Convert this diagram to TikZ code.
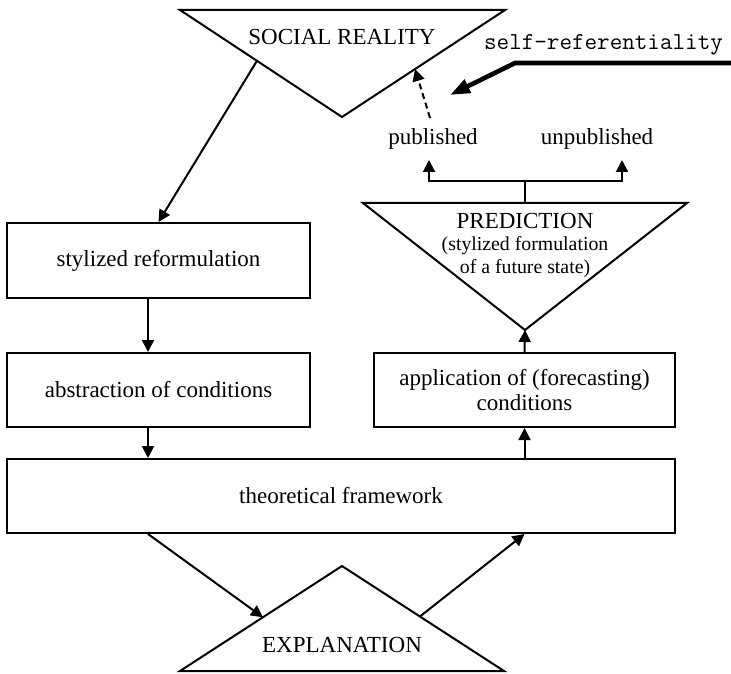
\documentclass[tikz,border=0pt]{standalone}
\usepackage{fontspec}
\setmainfont{Liberation Serif}
\usetikzlibrary{arrows.meta,calc}
\begin{document}
\begin{tikzpicture}[x=0.5pt,y=-0.5pt,
  box/.style={draw,line width=1pt,rectangle,inner sep=0pt,align=center,
    font=\fontsize{11.5}{12.5}\selectfont},
  lbl/.style={inner sep=0pt,align=center,font=\fontsize{11.5}{13.5}\selectfont},
  sublbl/.style={inner sep=0pt,align=center,font=\fontsize{9.9}{11.5}\selectfont},
  arr/.style={line width=1pt,-{Triangle[length=6pt,width=6pt]}},
  outline/.style={line width=1pt,line join=miter}]
\useasboundingbox (0,0) rectangle (731,673);

% guide column for the left-hand vertical connectors
\coordinate (lx) at (148,0);

% SOCIAL REALITY (inverted triangle)
\coordinate (srl) at (180,10);
\coordinate (srr) at (505,10);
\coordinate (sra) at (342,117);
\draw[outline] (srl) -- (srr) -- (sra) -- cycle;
\node[lbl] (social) at (342,37) {SOCIAL REALITY};

% PREDICTION (inverted triangle)
\coordinate (pl) at (363,203);
\coordinate (pr) at (687,203);
\coordinate (pa) at (525,330);
\draw[outline] (pl) -- (pr) -- (pa) -- cycle;
\node[lbl] (pred) at (525,221) {PREDICTION};
\node[sublbl] (predsub) at (525,257) {(stylized formulation\\of a future state)};

% EXPLANATION (triangle)
\coordinate (el) at (180,671);
\coordinate (er) at (504,671);
\coordinate (ea) at (342,566);
\draw[outline] (el) -- (ea) -- (er) -- cycle;
\node[lbl] (expl) at (342,645) {EXPLANATION};

% boxes
\node[box,minimum width=151.5pt,minimum height=37.5pt] (sr) at (158.5,260.5) {stylized reformulation};
\node[box,minimum width=151.5pt,minimum height=37pt] (ab) at (158.5,390) {abstraction of conditions};
\node[box,minimum width=334pt,minimum height=37pt] (tf) at (341,496) {theoretical framework};
\node[box,minimum width=150.5pt,minimum height=37pt] (ap) at (524.5,390) {application of (forecasting)\\conditions};

% outcome labels
\node[lbl] (pub) at (433,139) {published};
\node[lbl] (unpub) at (597,139) {unpublished};
\node[inner sep=0pt,font=\ttfamily\fontsize{12.2}{13}\selectfont] (selfref) at (603.5,45) {self-referentiality};

% connector end points
\coordinate (fork) at (525,181);
\coordinate (pubtip) at (429,160);
\coordinate (unpubtip) at (622,160);
\coordinate (dashtail) at (430,118);
\coordinate (srhit) at ($(srr)!0.552!(sra)$);
\coordinate (srout) at ($(srl)!0.475!(sra)$);
\coordinate (eltip) at ($(el)!0.512!(ea)$);
\coordinate (erout) at ($(ea)!0.481!(er)$);
\coordinate (selfend) at (731,63);
\coordinate (selfbend) at (515,63);
\coordinate (selftip) at (450,95);

% main flow
\draw[arr] (srout) -- (sr.north);
\draw[arr] (lx |- sr.south) -- (lx |- ab.north);
\draw[arr] (lx |- ab.south) -- (lx |- tf.north);
\draw[arr] (lx |- tf.south) -- (eltip);
\draw[arr] (erout) -- (ap.south |- tf.south);
\draw[arr] (ap.south |- tf.north) -- (ap.south);
\draw[arr] (ap.north) -- (pa);

% publication branch
\draw[line width=1pt] (pa |- pl) -- (fork);
\draw[arr] (fork) -| (pubtip);
\draw[arr] (fork) -| (unpubtip);
\draw[arr,dash pattern=on 3pt off 2pt] (dashtail) -- (srhit);

% self-referentiality pointer
\draw[line width=2.3pt,line join=miter,-{Triangle[length=10pt,width=7pt]}] (selfend) -- (selfbend) -- (selftip);
\end{tikzpicture}
\end{document}
